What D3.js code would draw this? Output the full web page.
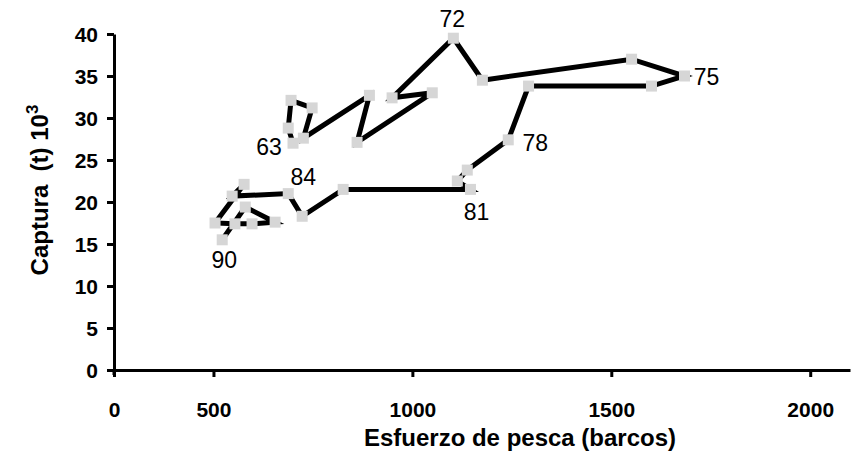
<!DOCTYPE html>
<html>
<head>
<meta charset="utf-8">
<script src="https://cdn.jsdelivr.net/npm/d3@7"></script>
<style>
  html, body { margin: 0; padding: 0; background: #fff; }
  svg { display: block; font-family: "Liberation Sans", Arial, sans-serif; }
</style>
</head>
<body>
<svg id="chart" width="852" height="452"></svg>
<script>
// Fishing effort (boats) and catch (t x 10^3), trajectory 1963 -> 1990
const effort = [700, 688, 695, 748, 726, 892, 861, 1050, 949, 1103,
                1176, 1551, 1684, 1601, 1292, 1241, 1138, 1113, 1146, 826,
                723, 688, 547, 577, 504, 554, 597, 655, 580, 522];
const catchT = [27.0, 28.8, 32.1, 31.2, 27.6, 32.7, 27.1, 33.0, 32.4, 39.5,
                34.5, 37.0, 35.0, 33.8, 33.8, 27.4, 23.8, 22.5, 21.5, 21.5,
                18.3, 21.0, 20.7, 22.1, 17.5, 17.4, 17.4, 17.6, 19.4, 15.5];
// year annotations: label text and the point index they mark
const yearLabels = ["63", "72", "75", "78", "81", "84", "90"];
const yearIndex  = [0, 9, 12, 15, 18, 21, 29];

const xTickValues = [250, 500, 1000, 1500, 2000];
const xTickLabels = ["0", "500", "1000", "1500", "2000"];
const yTickValues = [0, 5, 10, 15, 20, 25, 30, 35, 40];

const svg = d3.select("#chart");
const x = d3.scaleLinear().domain([250, 2100]).range([114, 850]);
const y = d3.scaleLinear().domain([0, 40]).range([370, 34]);

// axes
const xAxis = svg.append("g").attr("transform", `translate(0,${y(0)})`)
  .call(d3.axisBottom(x).tickValues(xTickValues)
        .tickFormat((d, i) => xTickLabels[i]).tickSize(7).tickSizeOuter(0));
const yAxis = svg.append("g").attr("transform", `translate(${x(250)},0)`)
  .call(d3.axisLeft(y).tickValues(yTickValues).tickSize(7).tickSizeOuter(0));

[xAxis, yAxis].forEach(a => {
  a.select(".domain").attr("stroke", "#000").attr("stroke-width", 3);
  a.selectAll(".tick line").attr("stroke", "#000").attr("stroke-width", 3);
  a.selectAll(".tick text").attr("fill", "#000")
    .style("font-size", "21px").style("font-weight", "bold")
    .style("font-family", "'Liberation Sans', Arial, sans-serif");
});
xAxis.selectAll(".tick text").attr("dy", "0").attr("y", 47);
yAxis.selectAll(".tick text").attr("x", -16).attr("dy", "0.36em");
// small cross at origin
svg.append("line").attr("x1", x(250)).attr("x2", x(250))
  .attr("y1", y(0)).attr("y2", y(0) + 5).attr("stroke", "#000").attr("stroke-width", 3);

// trajectory line
const pts = effort.map((e, i) => [e, catchT[i]]);
svg.append("path")
  .datum(pts)
  .attr("fill", "none")
  .attr("stroke", "#000")
  .attr("stroke-width", 5)
  .attr("stroke-linejoin", "miter")
  .attr("d", d3.line().x(d => x(d[0])).y(d => y(d[1])));

// markers
svg.append("g").selectAll("rect").data(pts).join("rect")
  .attr("x", d => x(d[0]) - 5.5).attr("y", d => y(d[1]) - 5.5)
  .attr("width", 11).attr("height", 11)
  .attr("fill", "#d6d6d6");

// year labels (pixel offsets from their point)
const labelOffset = {"63": [-24, 4], "72": [-1, -19], "75": [22, 1], "78": [27, 3],
                     "81": [6, 23], "84": [15, -17], "90": [2, 20]};
svg.append("g").selectAll("text").data(yearLabels).join("text")
  .attr("x", (d, i) => x(effort[yearIndex[i]]) + labelOffset[d][0])
  .attr("y", (d, i) => y(catchT[yearIndex[i]]) + labelOffset[d][1])
  .attr("text-anchor", "middle").attr("dominant-baseline", "central")
  .style("font-size", "23px").attr("fill", "#000")
  .text(d => d);

// axis titles
svg.append("text").attr("x", 520).attr("y", 446).attr("text-anchor", "middle")
  .style("font-size", "24px").style("font-weight", "bold")
  .text("Esfuerzo de pesca (barcos)");
const yt = svg.append("text").attr("transform", "translate(48,190) rotate(-90)")
  .attr("text-anchor", "middle")
  .style("font-size", "24px").style("font-weight", "bold");
yt.append("tspan").text("Captura\u00a0\u00a0(t) 10");
yt.append("tspan").attr("dy", -10).style("font-size", "17px").text("3");
</script>
</body>
</html>
